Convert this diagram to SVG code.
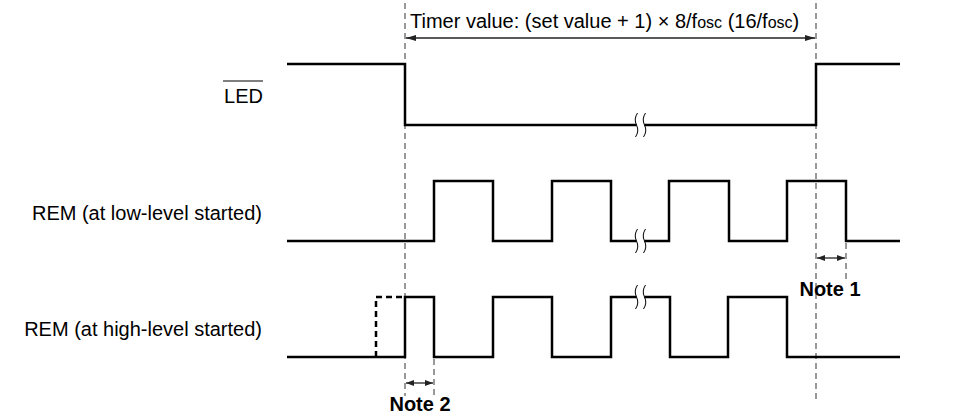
<svg xmlns="http://www.w3.org/2000/svg" width="957" height="418" viewBox="0 0 957 418">
<style>
.sig{fill:none;stroke:#000;stroke-width:2.5;stroke-linejoin:miter}
.sigd{fill:none;stroke:#000;stroke-width:2.5;stroke-dasharray:6 4}
.guide{fill:none;stroke:#333;stroke-width:1;stroke-dasharray:6 4}
.dim{fill:none;stroke:#222;stroke-width:1.3}
.brk{fill:none;stroke:#000;stroke-width:1}
.lbl{font-family:"Liberation Sans",Arial,sans-serif;font-size:20px;fill:#000}
.note{font-family:"Liberation Sans",Arial,sans-serif;font-size:20px;font-weight:bold;fill:#000}
</style>
<defs>
<marker id="ah" viewBox="0 0 10 6" refX="10" refY="3" markerWidth="10" markerHeight="6" markerUnits="userSpaceOnUse" orient="auto-start-reverse">
<path d="M0,0 L10,3 L0,6 Z" fill="#222"/>
</marker>
<marker id="ahs" viewBox="0 0 8 6" refX="8" refY="3" markerWidth="8" markerHeight="6" markerUnits="userSpaceOnUse" orient="auto-start-reverse">
<path d="M0,0 L8,3 L0,6 Z" fill="#222"/>
</marker>
</defs>

<g id="connectors">
<line class="guide" x1="405" y1="3" x2="405" y2="396"/>
<line class="guide" x1="816" y1="3" x2="816" y2="400"/>
<line class="guide" x1="846" y1="243" x2="846" y2="279"/>
<line class="guide" x1="434" y1="359" x2="434" y2="396"/>
<line class="dim" x1="406" y1="38" x2="815" y2="38" marker-start="url(#ah)" marker-end="url(#ah)"/>
<line class="dim" x1="817" y1="258" x2="845" y2="258" marker-start="url(#ahs)" marker-end="url(#ahs)"/>
<line class="dim" x1="406" y1="383" x2="433" y2="383" marker-start="url(#ahs)" marker-end="url(#ahs)"/>
</g>

<g id="timer-label">
<text class="lbl" x="410" y="28" font-size="20.5">Timer value: (set value + 1) × 8/f<tspan font-size="16">osc</tspan> (16/f<tspan font-size="16">osc</tspan>)</text>
</g>

<g id="led">
<text class="lbl" x="263" y="103" text-anchor="end">LED</text>
<line x1="223" y1="81" x2="263" y2="81" stroke="#000" stroke-width="1.2"/>
<path class="sig" d="M287,64 H405 V125 H636.5"/>
<path class="sig" d="M644.5,125 H816 V64 H900"/>
<path class="brk" d="M637.5,113 Q633.5,119 636.5,125 Q639.5,131 635.5,137"/>
<path class="brk" d="M645.5,113 Q641.5,119 644.5,125 Q647.5,131 643.5,137"/>
</g>

<g id="rem-low">
<text class="lbl" x="262" y="220" text-anchor="end">REM (at low-level started)</text>
<path class="sig" d="M287,241 H434 V181 H493 V241 H552 V181 H611 V241 H636.5"/>
<path class="sig" d="M644.5,241 H669 V181 H729 V241 H787 V181 H846 V241 H900"/>
<path class="brk" d="M637.5,229 Q633.5,235 636.5,241 Q639.5,247 635.5,253"/>
<path class="brk" d="M645.5,229 Q641.5,235 644.5,241 Q647.5,247 643.5,253"/>
</g>

<g id="rem-high">
<text class="lbl" x="262" y="336" text-anchor="end">REM (at high-level started)</text>
<path class="sig" d="M287,357 H405 V297 H434 V357 H493 V297 H552 V357 H611 V297 H636.5"/>
<path class="sig" d="M644.5,297 H670 V357 H728 V297 H787 V357 H900"/>
<path class="sigd" d="M376,357 V297 H405"/>
<path class="brk" d="M637.5,285 Q633.5,291 636.5,297 Q639.5,303 635.5,309"/>
<path class="brk" d="M645.5,285 Q641.5,291 644.5,297 Q647.5,303 643.5,309"/>
</g>

<g id="note1">
<text class="note" x="830" y="296" text-anchor="middle">Note 1</text>
</g>
<g id="note2">
<text class="note" x="420" y="411" text-anchor="middle">Note 2</text>
</g>
</svg>
